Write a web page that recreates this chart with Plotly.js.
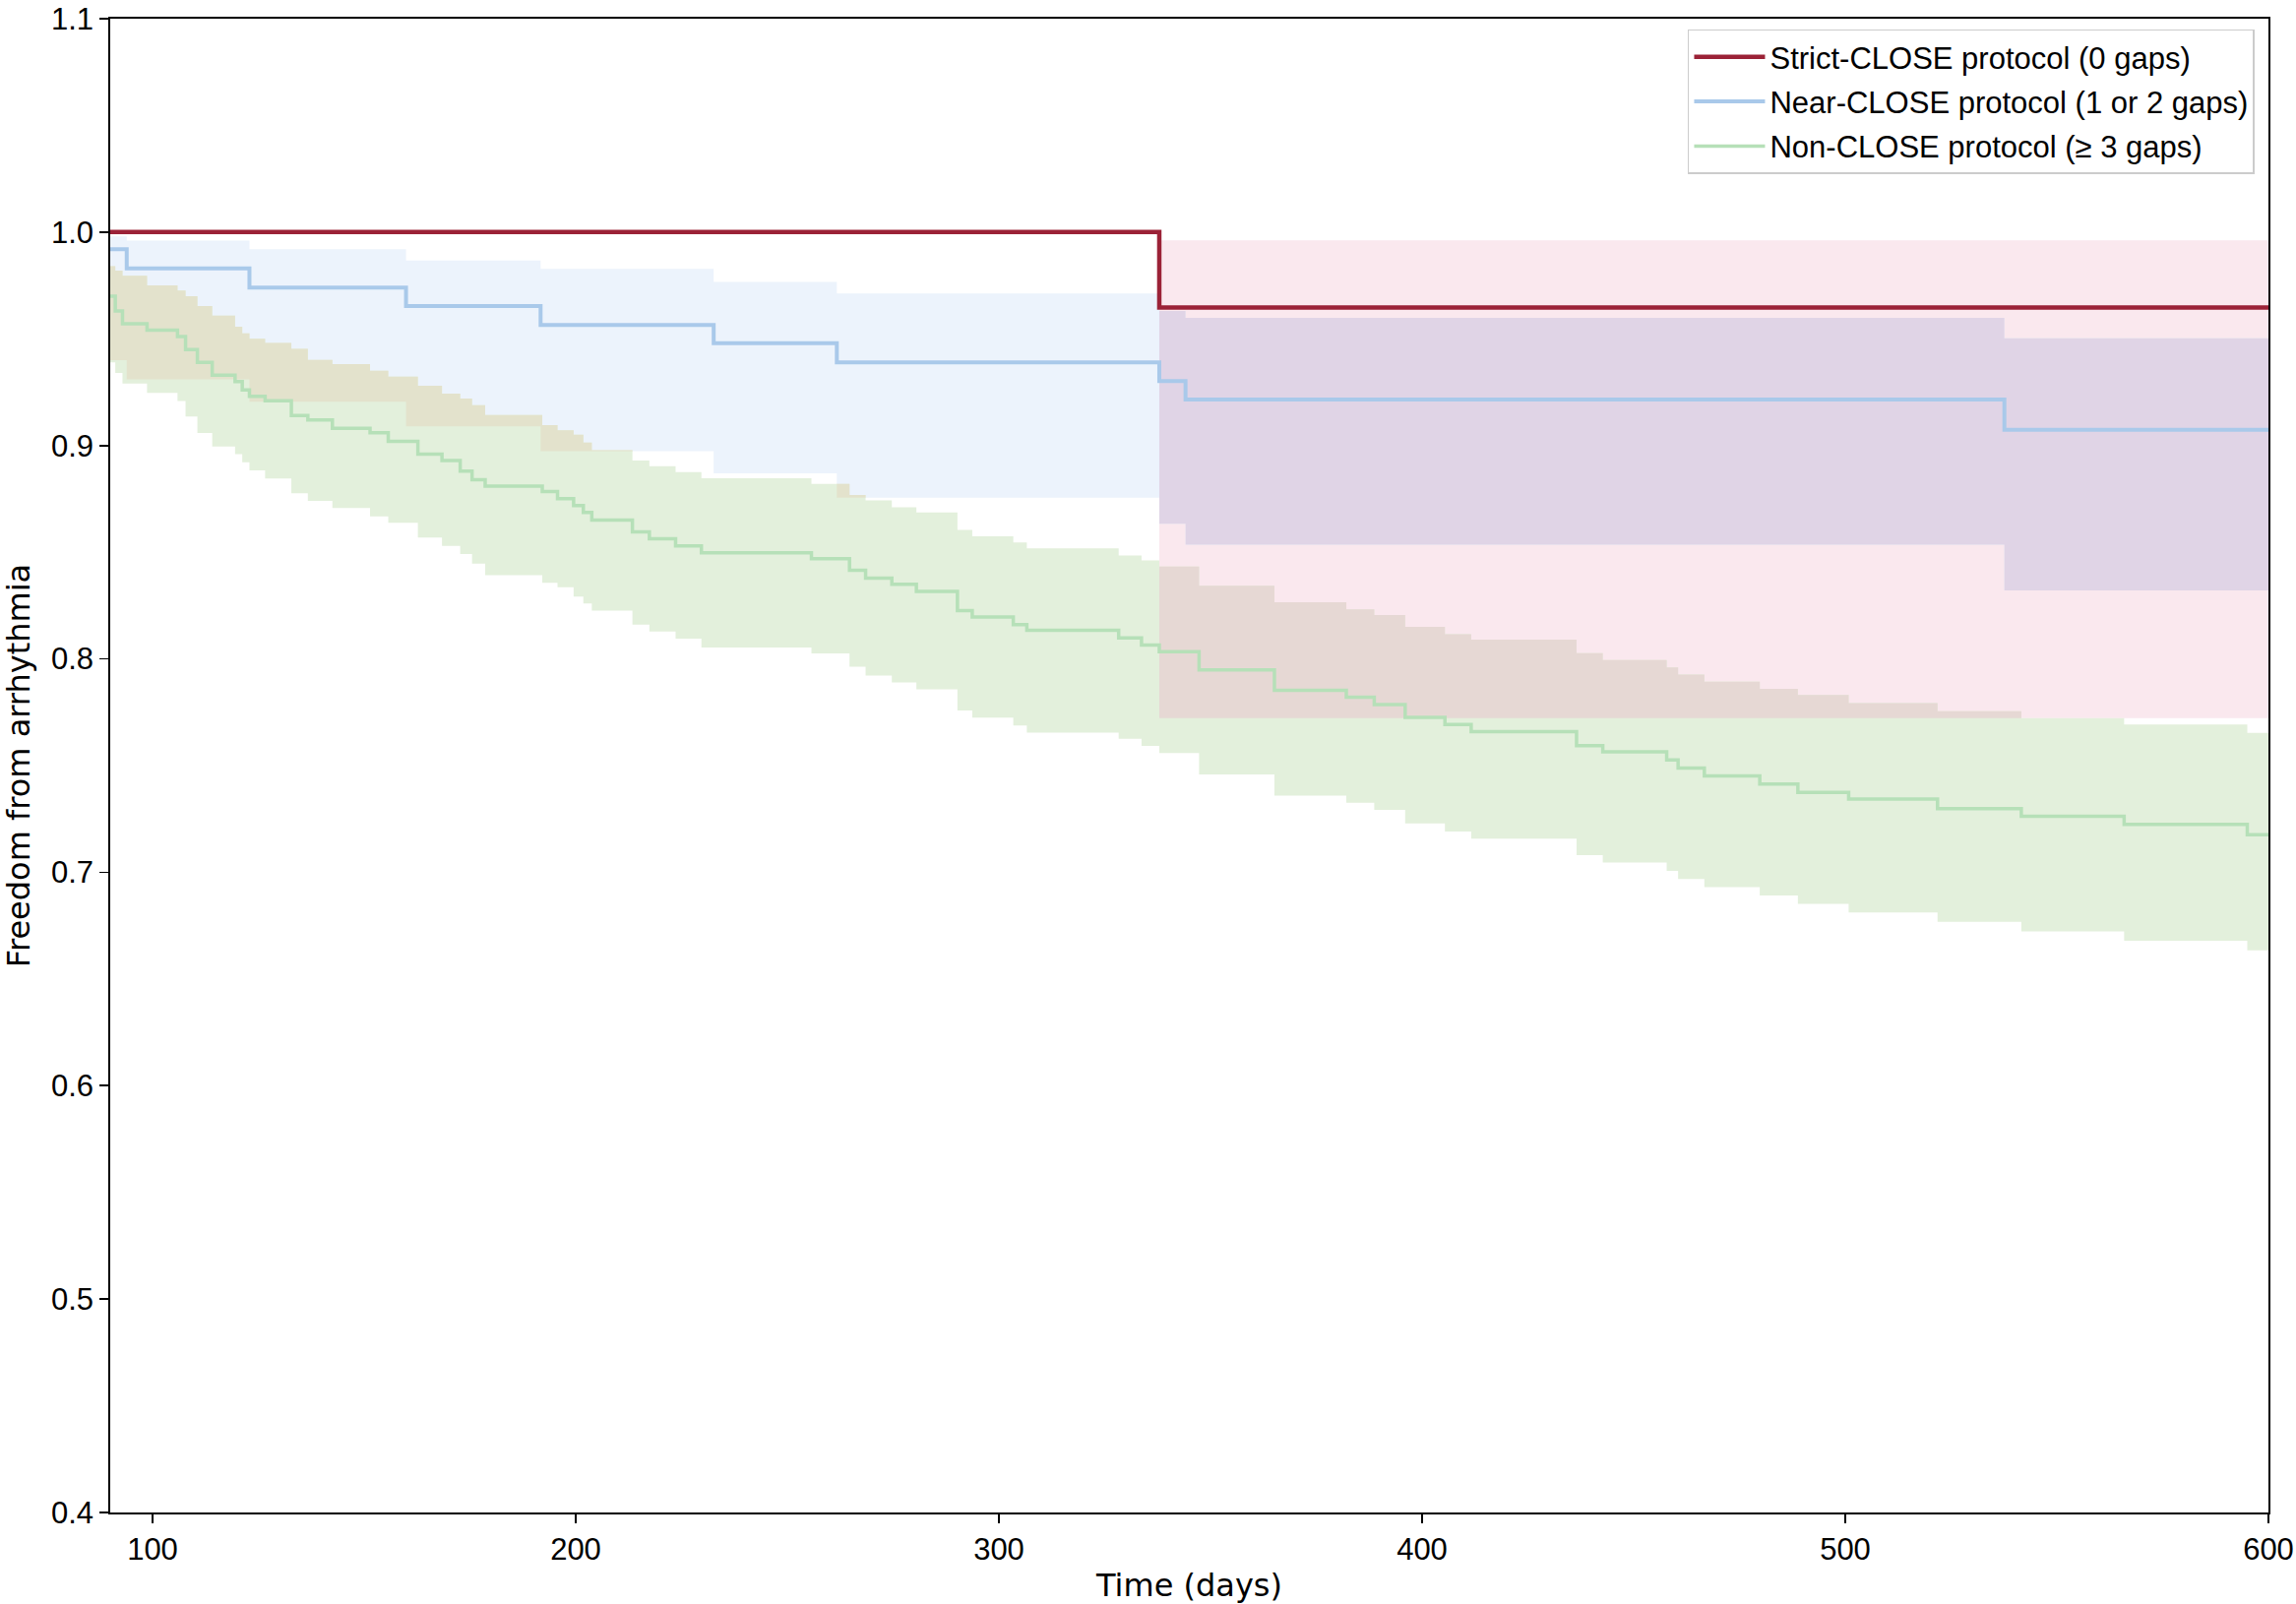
<!DOCTYPE html>
<html>
<head>
<meta charset="utf-8">
<script src="https://cdn.plot.ly/plotly-3.0.1.min.js"></script>
<style>
  html, body { margin: 0; padding: 0; background: #ffffff; }
  #km { width: 2333px; height: 1630px; }
</style>
</head>
<body>
<div id="km"></div>
<script>
// Kaplan-Meier curves, values (time in days)
var X_END = 600;
var X_TICKS = [100, 200, 300, 400, 500, 600];
var Y_TICKS = [0.4, 0.5, 0.6, 0.7, 0.8, 0.9, 1.0, 1.1];

var TIMES_STRICT = [90, 337.9];
var SURV_STRICT  = [1.000, 0.9647];
var UPPER_STRICT = [1.000, 0.9961];
var LOWER_STRICT = [1.000, 0.7722];

var TIMES_NEAR = [90, 93.9, 122.9, 159.9, 191.7, 232.6, 261.7, 337.9, 344.1, 537.6];
var SURV_NEAR  = [0.992, 0.983, 0.974, 0.9654, 0.9565, 0.9479, 0.9389, 0.9302, 0.9215, 0.9074];
var UPPER_NEAR = [0.998, 0.996, 0.992, 0.9867, 0.9827, 0.9766, 0.9712, 0.963, 0.9598, 0.9503];
var LOWER_NEAR = [0.940, 0.931, 0.9205, 0.909, 0.8973, 0.887, 0.8755, 0.8633, 0.8535, 0.8321];

var TIMES_NON = [90, 91.2, 92.9, 98.7, 105.9, 107.8, 110.6, 114.1, 119.5, 121.2,
  122.9, 126.6, 132.8, 136.7, 142.5, 151.4, 155.7, 162.7, 168.4, 172.7,
  175.5, 178.6, 192.1, 195.7, 199.5, 201.8, 203.8, 213.4, 217.4, 223.6,
  229.7, 255.7, 264.7, 268.5, 274.7, 280.5, 290.2, 293.7, 303.4, 306.6,
  328.3, 333.7, 337.9, 347.3, 365.1, 382.1, 388.7, 396.0, 405.4, 411.6,
  436.5, 442.7, 457.8, 460.5, 466.7, 479.8, 488.8, 500.8, 521.8, 541.6,
  565.9, 595.0];
var SURV_NON = [0.970, 0.963, 0.957, 0.954, 0.951, 0.945, 0.939, 0.933, 0.930, 0.926,
  0.923, 0.921, 0.914, 0.912, 0.908, 0.906, 0.902, 0.896, 0.893, 0.888,
  0.884, 0.881, 0.8784, 0.8751, 0.8719, 0.8686, 0.865, 0.8595, 0.8563, 0.853,
  0.8497, 0.8469, 0.8415, 0.8379, 0.835, 0.8316, 0.8226, 0.8196, 0.8161, 0.8134,
  0.8098, 0.8065, 0.8034, 0.7949, 0.7853, 0.782, 0.7786, 0.7726, 0.7693, 0.7659,
  0.7593, 0.7564, 0.7526, 0.7488, 0.7452, 0.7414, 0.7374, 0.7343, 0.7298, 0.7263,
  0.7225, 0.7176];
var UPPER_NON = [0.984, 0.982, 0.9795, 0.975, 0.9726, 0.970, 0.9654, 0.9608, 0.9557, 0.9526,
  0.950, 0.948, 0.9453, 0.9401, 0.9381, 0.935, 0.9323, 0.928, 0.9243, 0.922,
  0.9189, 0.9143, 0.9096, 0.9071, 0.905, 0.9014, 0.8978, 0.8929, 0.8903, 0.8875,
  0.8846, 0.882, 0.8768, 0.8743, 0.871, 0.8686, 0.8604, 0.8574, 0.8546, 0.8518,
  0.8485, 0.8462, 0.8433, 0.8343, 0.8266, 0.8232, 0.8205, 0.815, 0.8116, 0.809,
  0.8027, 0.7994, 0.796, 0.7927, 0.7893, 0.786, 0.7831, 0.7793, 0.7755, 0.7722,
  0.7693, 0.7653];
var LOWER_NON = [0.939, 0.934, 0.929, 0.9246, 0.9209, 0.9136, 0.9059, 0.8995, 0.896, 0.8921,
  0.8883, 0.8845, 0.8776, 0.874, 0.8707, 0.8668, 0.8638, 0.8569, 0.853, 0.8492,
  0.8446, 0.8392, 0.8357, 0.8336, 0.8292, 0.826, 0.8226, 0.816, 0.8128, 0.8095,
  0.8053, 0.8026, 0.7963, 0.7922, 0.789, 0.7857, 0.7758, 0.7725, 0.7688, 0.7655,
  0.7626, 0.7592, 0.7559, 0.7459, 0.7359, 0.7326, 0.7292, 0.7229, 0.7191, 0.7158,
  0.708, 0.7046, 0.7007, 0.6968, 0.6931, 0.6891, 0.6852, 0.6812, 0.6768, 0.6723,
  0.6679, 0.6634];

var NAMES = ['Strict-CLOSE protocol (0 gaps)', 'Near-CLOSE protocol (1 or 2 gaps)', 'Non-CLOSE protocol (\u2265 3 gaps)'];

// common time grid so bands and their overlaps can be compared point by point
var grid = Array.from(new Set([].concat(TIMES_STRICT, TIMES_NEAR, TIMES_NON, [X_END])))
  .sort(function (a, b) { return a - b; });

function stepAt(times, vals, t) {
  var v = vals[0];
  for (var i = 0; i < times.length; i++) {
    if (times[i] <= t) v = vals[i];
  }
  return v;
}
function onGrid(times, vals) {
  return grid.map(function (t) { return stepAt(times, vals, t); });
}

var strict = { s: onGrid(TIMES_STRICT, SURV_STRICT), u: onGrid(TIMES_STRICT, UPPER_STRICT), l: onGrid(TIMES_STRICT, LOWER_STRICT) };
var near   = { s: onGrid(TIMES_NEAR, SURV_NEAR),     u: onGrid(TIMES_NEAR, UPPER_NEAR),     l: onGrid(TIMES_NEAR, LOWER_NEAR) };
var non    = { s: onGrid(TIMES_NON, SURV_NON),       u: onGrid(TIMES_NON, UPPER_NON),       l: onGrid(TIMES_NON, LOWER_NON) };

function band(lower, upper, color) {
  return [
    { x: grid, y: lower, type: 'scatter', mode: 'lines', line: { width: 0, shape: 'hv' },
      hoverinfo: 'skip', showlegend: false },
    { x: grid, y: upper, type: 'scatter', mode: 'lines', line: { width: 0, shape: 'hv' },
      fill: 'tonexty', fillcolor: color, hoverinfo: 'skip', showlegend: false }
  ];
}
function overlap(a, b, color) {
  var lo = a.l.map(function (v, i) { return Math.max(v, b.l[i]); });
  var hi = a.u.map(function (v, i) { return Math.max(lo[i], Math.min(v, b.u[i])); });
  return band(lo, hi, color);
}
function curve(g, name, color, width) {
  return { x: grid, y: g.s, type: 'scatter', mode: 'lines', name: name, legendgroup: name,
    line: { color: color, width: width, shape: 'hv' } };
}

var data = [].concat(
  band(strict.l, strict.u, '#fae8ee'),
  band(near.l, near.u, '#ecf3fc'),
  band(non.l, non.u, '#e3f0dc'),
  overlap(strict, near, '#e0d4e6'),
  overlap(strict, non, '#e6d8d4'),
  overlap(near, non, '#e3e2cc'),
  [curve(strict, NAMES[0], '#9b2237', 4.5),
   curve(near, NAMES[1], '#a9c9ea', 4),
   curve(non, NAMES[2], '#b6e0b8', 3.5)]
);

var layout = {
  width: 2333,
  height: 1630,
  margin: { l: 112, r: 28, t: 19, b: 93 },
  paper_bgcolor: '#ffffff',
  plot_bgcolor: '#ffffff',
  font: { family: 'Liberation Sans', color: '#000000', size: 30 },
  showlegend: true,
  legend: {
    x: 0.9936, y: 0.993, xanchor: 'right', yanchor: 'top',
    bgcolor: '#ffffff', bordercolor: '#cccccc', borderwidth: 1.5,
    font: { family: 'Liberation Sans', size: 31, color: '#000000' },
    traceorder: 'grouped', tracegroupgap: 2, itemwidth: 72
  },
  xaxis: {
    range: [90, X_END],
    tickmode: 'array', tickvals: X_TICKS,
    ticks: 'outside', ticklen: 9, tickwidth: 1.8, tickcolor: '#000000',
    showline: true, linecolor: '#000000', linewidth: 1.8, mirror: true,
    showgrid: false, zeroline: false, ticklabeloverflow: 'allow',
    tickfont: { family: 'Liberation Sans', size: 31 },
    title: { text: 'Time (days)', font: { family: 'DejaVu Sans', size: 32 }, standoff: 9 }
  },
  yaxis: {
    range: [0.4, 1.1],
    tickmode: 'array', tickvals: Y_TICKS, tickformat: '.1f',
    ticks: 'outside', ticklen: 9, tickwidth: 1.8, tickcolor: '#000000',
    showline: true, linecolor: '#000000', linewidth: 1.8, mirror: true,
    showgrid: false, zeroline: false, ticklabeloverflow: 'allow',
    tickfont: { family: 'Liberation Sans', size: 31 },
    title: { text: 'Freedom from arrhythmia', font: { family: 'DejaVu Sans', size: 32 }, standoff: 12 }
  }
};

Plotly.newPlot('km', data, layout, { showLink: false, displayModeBar: false, staticPlot: true });
</script>
</body>
</html>
